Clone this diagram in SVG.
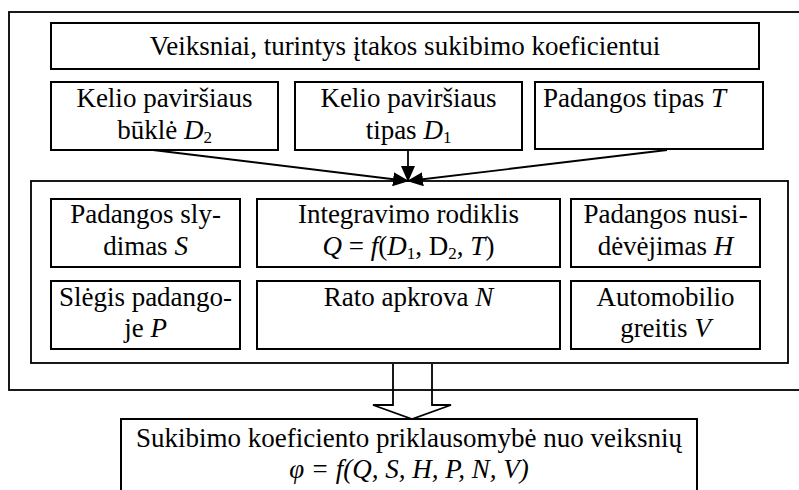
<svg xmlns="http://www.w3.org/2000/svg" width="799" height="490" viewBox="0 0 799 490" font-family="'Liberation Serif', 'Times New Roman', serif">
<style>
.box{fill:none;stroke:#000;stroke-width:2}
.frame{fill:none;stroke:#000;stroke-width:1.8}
text{font-family:'Liberation Serif','Times New Roman',serif;font-size:27px;fill:#000}
.c{text-anchor:middle}
.i{font-style:italic}
.sub{font-size:17px}
.conn{fill:none;stroke:#000;stroke-width:1.8}
</style>
<defs>
<marker id="ah" markerUnits="userSpaceOnUse" markerWidth="16" markerHeight="14" refX="15" refY="7" orient="auto">
<path d="M0,0 L16,7 L0,14 Z" fill="#000"/>
</marker>
</defs>
<rect x="0" y="0" width="799" height="490" fill="#fff"/>
<g id="outer-frame"><rect class="frame" x="9" y="12" width="800" height="378"/></g>
<g id="inner-frame"><rect class="frame" x="31" y="181" width="757" height="182"/></g>
<g id="n-top"><rect class="box" x="51" y="23" width="708" height="46"/>
<text class="c" x="405" y="55">Veiksniai, turintys įtakos sukibimo koeficientui</text></g>
<g id="n-d2"><rect class="box" x="51" y="82" width="227" height="68"/>
<text class="c" x="164.5" y="107">Kelio paviršiaus</text>
<text class="c" x="164.5" y="139">būklė <tspan class="i">D</tspan><tspan class="sub" dy="4">2</tspan></text></g>
<g id="n-d1"><rect class="box" x="295" y="82" width="227" height="68"/>
<text class="c" x="408.5" y="107">Kelio paviršiaus</text>
<text class="c" x="408.5" y="139">tipas <tspan class="i">D</tspan><tspan class="sub" dy="4">1</tspan></text></g>
<g id="n-t"><rect class="box" x="535" y="82" width="228" height="67"/>
<text x="543" y="107">Padangos tipas <tspan class="i">T</tspan></text></g>
<g id="n-s"><rect class="box" x="51" y="199" width="189" height="68"/>
<text class="c" x="145.5" y="223">Padangos sly-</text>
<text class="c" x="145.5" y="255">dimas <tspan class="i">S</tspan></text></g>
<g id="n-q"><rect class="box" x="257" y="199" width="303" height="68"/>
<text class="c" x="408.5" y="223">Integravimo rodiklis</text>
<text class="c" x="408.5" y="255"><tspan class="i">Q</tspan> = <tspan class="i">f</tspan>(<tspan class="i">D</tspan><tspan class="sub" dy="4">1</tspan><tspan dy="-4">, D</tspan><tspan class="sub" dy="4">2</tspan><tspan dy="-4">, </tspan><tspan class="i">T</tspan>)</text></g>
<g id="n-h"><rect class="box" x="571" y="199" width="189" height="68"/>
<text class="c" x="665.5" y="223">Padangos nusi-</text>
<text class="c" x="665.5" y="255">dėvėjimas <tspan class="i">H</tspan></text></g>
<g id="n-p"><rect class="box" x="51" y="281" width="189" height="68"/>
<text class="c" x="145.5" y="306">Slėgis padango-</text>
<text class="c" x="145.5" y="337">je <tspan class="i">P</tspan></text></g>
<g id="n-n"><rect class="box" x="257" y="281" width="303" height="68"/>
<text class="c" x="408.5" y="306">Rato apkrova <tspan class="i">N</tspan></text></g>
<g id="n-v"><rect class="box" x="571" y="281" width="189" height="68"/>
<text class="c" x="665.5" y="306">Automobilio</text>
<text class="c" x="665.5" y="337">greitis <tspan class="i">V</tspan></text></g>
<g id="n-result"><rect class="box" x="121" y="419" width="576" height="90"/>
<text class="c" x="409" y="447">Sukibimo koeficiento priklausomybė nuo veiksnių</text>
<text class="c i" x="409" y="478">φ = f(Q, S, H, P, N, V)</text></g>
<g id="connectors">
<line class="conn" x1="153" y1="150" x2="408" y2="181" marker-end="url(#ah)"/>
<line class="conn" x1="408" y1="150" x2="408" y2="181" marker-end="url(#ah)"/>
<line class="conn" x1="667" y1="150" x2="408" y2="181" marker-end="url(#ah)"/>
<polyline class="conn" points="393,364 393,405 373,405 412,419 451,405 432,405 432,364"/>
</g>
</svg>
